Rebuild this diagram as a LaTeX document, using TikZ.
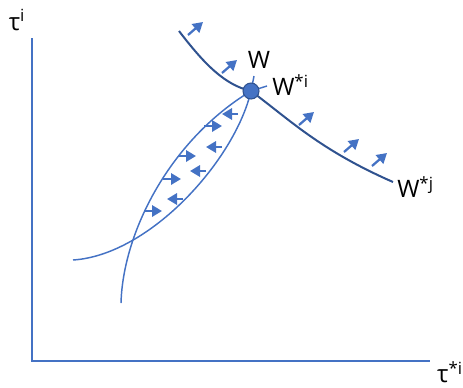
\documentclass[tikz,border=0pt]{standalone}
\usepackage{fontspec}
\setmainfont{Open Sans}
\usepackage{tikz}
\usetikzlibrary{arrows.meta}
\definecolor{axisblue}{HTML}{4472C4}
\definecolor{curveblue}{HTML}{2F528F}

\begin{document}
\begin{tikzpicture}[x=0.75pt, y=-0.75pt, every node/.style={font=\fontsize{18}{21}\selectfont, inner sep=0pt},
  flow/.style={axisblue, line width=1.7pt, -{Triangle[length=7.5pt, width=8.5pt]}},
  lens/.style={axisblue, line width=1.1pt}]
  \useasboundingbox (0,0) rectangle (463,387);

  % AXES
  \draw[axisblue, line width=1.5pt] (32,38) -- (32,361) -- (430,361);
  \node (ylab) at (17,20) {τ\textsuperscript{i}};
  \node (xlab) at (450,372) {τ\textsuperscript{*i}};

  % EQUILIBRIUM POINT
  \coordinate (eqc) at (251,91);

  % LENS CURVES
  \draw[lens] (121,303) .. controls (123,232) and (170,140) .. (eqc) -- (267,86);
  \draw[lens] (73,260) .. controls (150,255) and (235,160) .. (eqc) -- (254,76);

  % W CURVE
  \draw[curveblue, line width=1.5pt] (179,31) .. controls (205,65) and (225,85) .. (eqc)
    .. controls (290,120) and (320,150) .. (393,182);

  \node[circle, minimum size=12pt, fill=axisblue, draw=curveblue, line width=0.8pt] (eq) at (eqc) {};
  \node (w) at (259,60) {W};
  \node[anchor=west] (wi) at (272,85) {W\textsuperscript{*i}};
  \node[anchor=west] (wj) at (397,187) {W\textsuperscript{*j}};

  % IMPROVEMENT ARROWS
  \foreach \x/\y in {188/35, 222/73, 299/125, 344/152, 372/166}
    \draw[flow] (\x,\y) -- ++(15,-13);

  % ADJUSTMENT ARROWS INSIDE THE LENS
  \foreach \x/\y in {204/126, 178/156, 163/179, 144/211}
    \draw[flow] (\x,\y) -- ++(18,0);
  \foreach \x/\y in {238/114, 222/147, 206/171, 183/199}
    \draw[flow] (\x,\y) -- ++(-16,0);
\end{tikzpicture}
\end{document}
